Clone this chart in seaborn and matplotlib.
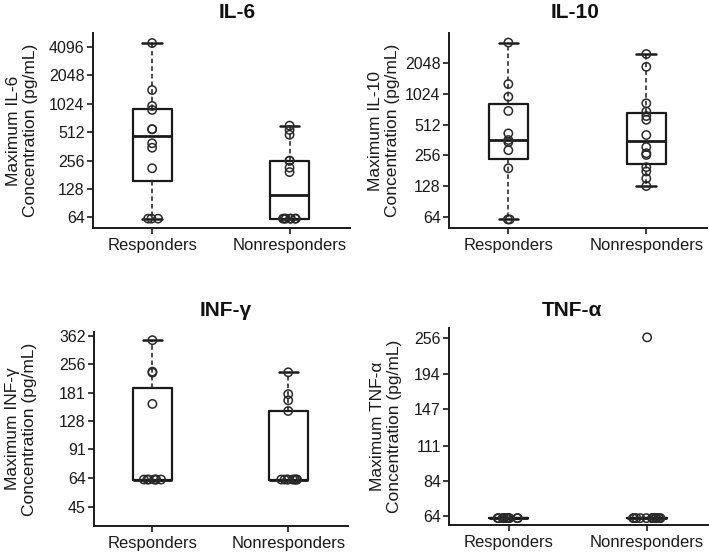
import numpy as np
import pandas as pd
import matplotlib
matplotlib.use("Agg")
import matplotlib.pyplot as plt
import matplotlib.ticker as mticker
import seaborn as sns

# ---------------- data ----------------
groups = ["Responders", "Nonresponders"]

il6_resp = [62, 62, 62, 212, 350, 390, 550, 550, 880, 970, 1430, 4500]
il6_nonresp = [62, 62, 62, 62, 62, 62, 62, 193, 215, 255, 255, 480, 540, 600]

il10_resp = [61, 61, 192, 288, 345, 362, 420, 695, 955, 1270, 3220]
il10_nonresp = [129, 153, 179, 197, 259, 269, 309, 405, 570, 620, 685, 825, 1870, 2490]

inf_resp = [63, 63, 63, 63, 63, 63, 63, 158, 231, 234, 343]
inf_nonresp = [63, 63, 63, 63, 63, 63, 63, 63, 63, 145, 165, 178, 232]

tnf_resp = [63] * 12
tnf_nonresp = [63] * 14 + [258]

titles = ["IL-6", "IL-10", "INF-\u03b3", "TNF-\u03b1"]
ylabels = ["Maximum IL-6\nConcentration (pg/mL)",
           "Maximum IL-10\nConcentration (pg/mL)",
           "Maximum INF-\u03b3\nConcentration (pg/mL)",
           "Maximum TNF-\u03b1\nConcentration (pg/mL)"]
ticks_il6 = [64, 128, 256, 512, 1024, 2048, 4096]
ticks_il10 = [64, 128, 256, 512, 1024, 2048]
ticks_inf = [45, 64, 91, 128, 181, 256, 362]
ticks_tnf = [64, 84, 111, 147, 194, 256]

# ---------------- style ----------------
sns.set_theme(style="ticks")
plt.rcParams["font.family"] = ["Liberation Sans", "DejaVu Sans"]
plt.rcParams["axes.linewidth"] = 1.4
plt.rcParams["axes.edgecolor"] = "#1a1a1a"

np.random.seed(7)

fig = plt.figure(figsize=(7.09, 5.54), dpi=100)

panels = [
    dict(resp=il6_resp, non=il6_nonresp, ticks=ticks_il6, ylim=(49.3, 5750),
         rect=(0.1312, 0.5884, 0.3625, 0.352), jit=0.05, tx=0.56, pad=11, lx=-0.214),
    dict(resp=il10_resp, non=il10_nonresp, ticks=ticks_il10, ylim=(50.3, 3990),
         rect=(0.6333, 0.5884, 0.3639, 0.352), jit=0.02, tx=0.49, pad=11, lx=-0.19),
    dict(resp=inf_resp, non=inf_nonresp, ticks=ticks_inf, ylim=(35.8, 380),
         rect=(0.1326, 0.0505, 0.3582, 0.3507), jit=0.07, tx=0.52, pad=11, lx=-0.224),
    dict(resp=tnf_resp, non=tnf_nonresp, ticks=ticks_tnf, ylim=(59.7, 277.5),
         rect=(0.6337, 0.0523, 0.3649, 0.3556), jit=0.11, tx=0.475, pad=9, lx=-0.183),
]

for i, p in enumerate(panels):
    ax = fig.add_axes(p["rect"])
    df = pd.DataFrame({
        "group": [groups[0]] * len(p["resp"]) + [groups[1]] * len(p["non"]),
        "value": list(p["resp"]) + list(p["non"]),
    })
    sns.boxplot(data=df, x="group", y="value", order=groups, ax=ax,
                log_scale=2, width=0.285, whis=1.5, fill=False,
                color="#1a1a1a", linewidth=1.6, showfliers=False,
                whiskerprops=dict(linestyle=(0, (3, 2)), linewidth=1.1),
                capprops=dict(linewidth=1.8),
                medianprops=dict(linewidth=2.0, color="#1a1a1a"))
    vmin = df["value"].min()
    low = df[df["value"] == vmin]
    high = df[df["value"] != vmin]
    sns.stripplot(data=high, x="group", y="value", order=groups, ax=ax,
                  log_scale=2, jitter=False, size=6.0, linewidth=1.1,
                  edgecolor="#2a2a2a", color="white", zorder=5)
    sns.stripplot(data=low, x="group", y="value", order=groups, ax=ax,
                  log_scale=2, jitter=p["jit"], size=6.0, linewidth=1.1,
                  edgecolor="#2a2a2a", color="white", zorder=5)
    for coll in ax.collections:
        coll.set_facecolor("none")
        coll.set_edgecolor("#2a2a2a")

    ax.set_yscale("log", base=2)
    ax.set_ylim(*p["ylim"])
    ax.set_xlim(-0.43, 1.44)
    ax.yaxis.set_major_locator(mticker.FixedLocator(p["ticks"]))
    ax.yaxis.set_major_formatter(mticker.FixedFormatter([str(t) for t in p["ticks"]]))
    ax.yaxis.set_minor_locator(mticker.NullLocator())
    ax.tick_params(axis="y", labelsize=11.5, length=4, width=1.2, pad=2,
                   colors="#1a1a1a")
    ax.tick_params(axis="x", labelsize=12, length=4, width=1.2, pad=3,
                   colors="#1a1a1a")
    ax.set_xlabel("")
    ax.set_ylabel(ylabels[i], fontsize=12.5, color="#1a1a1a", linespacing=1.2)
    ax.yaxis.set_label_coords(p["lx"], 0.5)
    ax.set_title(titles[i], fontsize=15, fontweight="bold", x=p["tx"],
                 pad=p["pad"], color="#111111")
    sns.despine(ax=ax)

fig.savefig("out.png", dpi=100)
